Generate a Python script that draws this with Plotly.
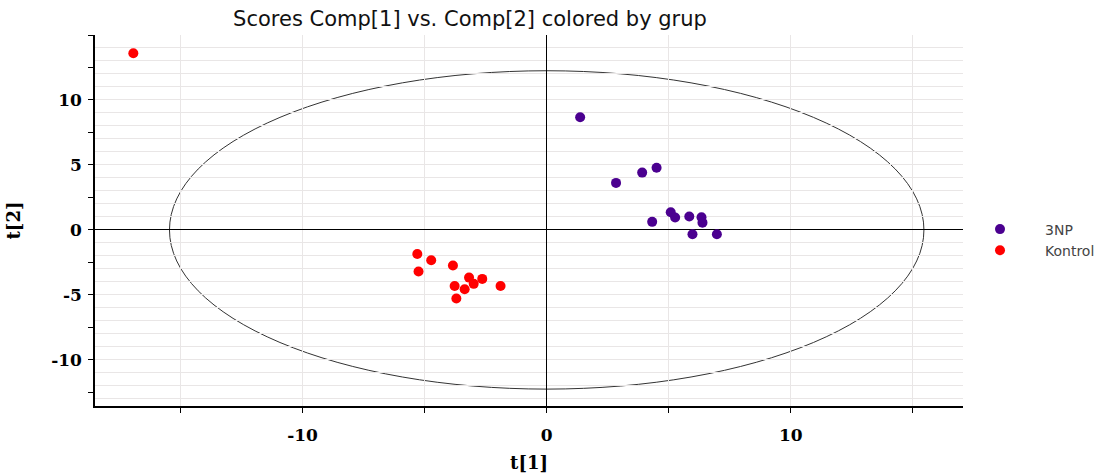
import plotly.graph_objects as go

# Data (t[1], t[2] scores)
np3_t1 = [1.37, 2.84, 3.91, 4.50, 4.32, 5.08, 5.26, 5.84, 6.34, 6.38, 5.97, 6.97]
np3_t2 = [8.67, 3.62, 4.41, 4.79, 0.62, 1.36, 0.95, 1.03, 0.98, 0.56, -0.33, -0.33]
kontrol_t1 = [-16.93, -5.30, -4.73, -3.84, -5.25, -3.18, -2.64, -2.99, -3.77, -3.36, -1.89, -3.70]
kontrol_t2 = [13.60, -1.85, -2.33, -2.74, -3.20, -3.67, -3.77, -4.15, -4.31, -4.56, -4.31, -5.28]
groups = ["3NP", "Kontrol"]
group_colors = ["#4B0090", "#FF0000"]

# Hotelling T2 ellipse semi-axes
ellipse_a = 15.45
ellipse_b = 12.25

x_tickvals = [-15, -10, -5, 0, 5, 10, 15]
x_ticktext = ["", "-10", "", "0", "", "10", ""]
y_tickvals = [-12.5, -10, -7.5, -5, -2.5, 0, 2.5, 5, 7.5, 10, 12.5, 15]
y_ticktext = ["", "-10", "", "-5", "", "0", "", "5", "", "10", "", ""]

fig = go.Figure()
for name, xs, ys, col in [(groups[0], np3_t1, np3_t2, group_colors[0]),
                          (groups[1], kontrol_t1, kontrol_t2, group_colors[1])]:
    fig.add_trace(go.Scatter(x=xs, y=ys, mode="markers", name=name,
                             marker=dict(color=col, size=10, line=dict(width=0))))
# empty trace to instantiate the grid overlay axis
fig.add_trace(go.Scatter(x=[], y=[], yaxis="y2", showlegend=False, hoverinfo="skip"))

fig.add_shape(type="circle", xref="x", yref="y",
              x0=-ellipse_a, x1=ellipse_a, y0=-ellipse_b, y1=ellipse_b,
              line=dict(color="#333333", width=1), layer="below")

tick_font = dict(family="DejaVu Serif", size=17, color="black", weight="bold")
axis_title_font = dict(family="DejaVu Serif", size=18, color="black", weight="bold")

fig.update_layout(
    width=1116, height=475,
    paper_bgcolor="white", plot_bgcolor="white",
    margin=dict(l=95, r=153, t=35, b=69, autoexpand=False),
    title=dict(text="Scores Comp[1] vs. Comp[2] colored by grup",
               x=470 / 1116, xref="container", xanchor="center",
               y=1 - 19 / 475, yref="container", yanchor="middle",
               font=dict(family="DejaVu Sans", size=21, color="#111111")),
    xaxis=dict(range=[-18.5, 17.05], tickvals=x_tickvals, ticktext=x_ticktext,
               automargin=False,
               showgrid=True, gridcolor="#e9e6e6", gridwidth=1,
               zeroline=True, zerolinecolor="black", zerolinewidth=1,
               showline=True, linecolor="black", linewidth=1.5,
               ticks="outside", ticklen=5, tickcolor="black", tickwidth=1,
               tickfont=tick_font, ticklabelstandoff=8,
               title=dict(text="t[1]", font=axis_title_font, standoff=12)),
    yaxis=dict(range=[-13.55, 15], tickvals=y_tickvals, ticktext=y_ticktext,
               automargin=False, showgrid=False,
               zeroline=True, zerolinecolor="black", zerolinewidth=1,
               showline=True, linecolor="black", linewidth=1.5,
               ticks="outside", ticklen=5, tickcolor="black", tickwidth=1,
               tickfont=tick_font, ticklabelstandoff=3,
               title=dict(text="t[2]", font=axis_title_font, standoff=26)),
    yaxis2=dict(range=[-13.55, 15], overlaying="y", side="left", dtick=1, tick0=0,
                automargin=False,
                showgrid=True, gridcolor="#e9e6e6", gridwidth=1,
                showticklabels=False, ticks="", zeroline=False, showline=False),
    legend=dict(x=955 / 1116, xref="container", xanchor="left",
                y=1 - 240 / 475, yref="container", yanchor="middle",
                font=dict(family="DejaVu Sans", size=14, color="#444444"),
                bgcolor="rgba(0,0,0,0)", itemwidth=80, tracegroupgap=0),
    showlegend=True,
)

fig.write_html("out.html")
